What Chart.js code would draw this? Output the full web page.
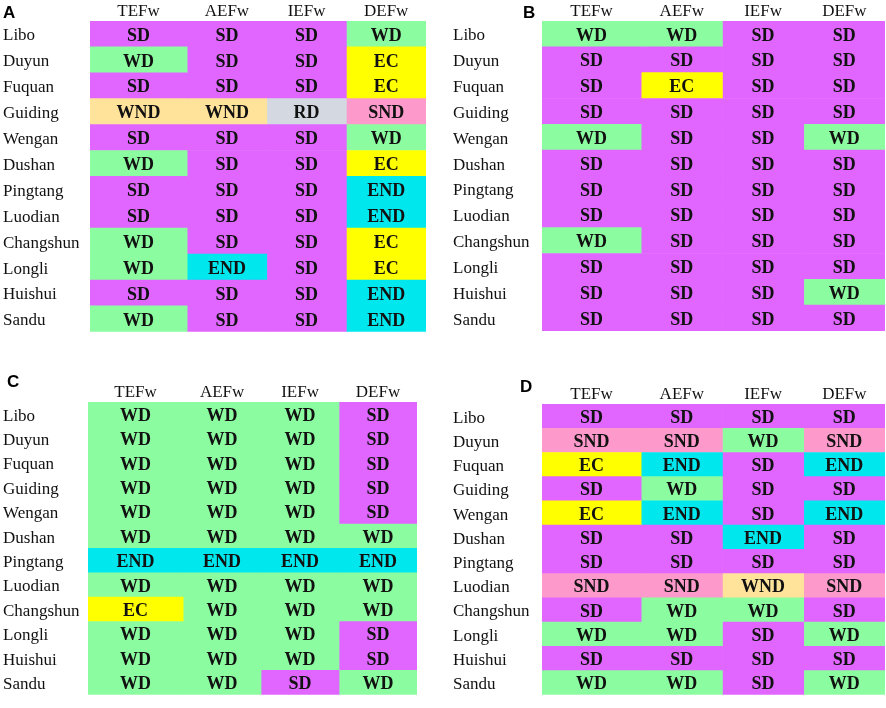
<!DOCTYPE html>
<html>
<head>
<meta charset="utf-8">
<script src="https://cdn.jsdelivr.net/npm/chart.js@4.4.1/dist/chart.umd.min.js"></script>
<style>
    html, body { margin: 0; padding: 0; background: #ffffff; }
    body { width: 886px; height: 708px; position: relative; overflow: hidden; }
    .panel { position: absolute; }
</style>
</head>
<body>
<div class="panel" id="panelA" style="left:0px;top:0px;width:440px;height:345px;"><canvas></canvas></div>
<div class="panel" id="panelB" style="left:440px;top:0px;width:446px;height:345px;"><canvas></canvas></div>
<div class="panel" id="panelC" style="left:0px;top:355px;width:440px;height:353px;"><canvas></canvas></div>
<div class="panel" id="panelD" style="left:440px;top:355px;width:446px;height:353px;"><canvas></canvas></div>
<script>
// stations (rows) and drought indices (columns)
const stations = ['Libo', 'Duyun', 'Fuquan', 'Guiding', 'Wengan', 'Dushan', 'Pingtang', 'Luodian', 'Changshun', 'Longli', 'Huishui', 'Sandu'];
const indices = ['TEFw', 'AEFw', 'IEFw', 'DEFw'];

// the first column is a bit wider than the others
const colWeights = [1.22, 1, 1, 1];

// panel A, one list per column
const panelA_TEFw = ['SD', 'WD', 'SD', 'WND', 'SD', 'WD', 'SD', 'SD', 'WD', 'WD', 'SD', 'WD'];
const panelA_AEFw = ['SD', 'SD', 'SD', 'WND', 'SD', 'SD', 'SD', 'SD', 'SD', 'END', 'SD', 'SD'];
const panelA_IEFw = ['SD', 'SD', 'SD', 'RD', 'SD', 'SD', 'SD', 'SD', 'SD', 'SD', 'SD', 'SD'];
const panelA_DEFw = ['WD', 'EC', 'EC', 'SND', 'WD', 'EC', 'END', 'END', 'EC', 'EC', 'END', 'END'];

// panel B
const panelB_TEFw = ['WD', 'SD', 'SD', 'SD', 'WD', 'SD', 'SD', 'SD', 'WD', 'SD', 'SD', 'SD'];
const panelB_AEFw = ['WD', 'SD', 'EC', 'SD', 'SD', 'SD', 'SD', 'SD', 'SD', 'SD', 'SD', 'SD'];
const panelB_IEFw = ['SD', 'SD', 'SD', 'SD', 'SD', 'SD', 'SD', 'SD', 'SD', 'SD', 'SD', 'SD'];
const panelB_DEFw = ['SD', 'SD', 'SD', 'SD', 'WD', 'SD', 'SD', 'SD', 'SD', 'SD', 'WD', 'SD'];

// panel C
const panelC_TEFw = ['WD', 'WD', 'WD', 'WD', 'WD', 'WD', 'END', 'WD', 'EC', 'WD', 'WD', 'WD'];
const panelC_AEFw = ['WD', 'WD', 'WD', 'WD', 'WD', 'WD', 'END', 'WD', 'WD', 'WD', 'WD', 'WD'];
const panelC_IEFw = ['WD', 'WD', 'WD', 'WD', 'WD', 'WD', 'END', 'WD', 'WD', 'WD', 'WD', 'SD'];
const panelC_DEFw = ['SD', 'SD', 'SD', 'SD', 'SD', 'WD', 'END', 'WD', 'WD', 'SD', 'SD', 'WD'];

// panel D
const panelD_TEFw = ['SD', 'SND', 'EC', 'SD', 'EC', 'SD', 'SD', 'SND', 'SD', 'WD', 'SD', 'WD'];
const panelD_AEFw = ['SD', 'SND', 'END', 'WD', 'END', 'SD', 'SD', 'SND', 'WD', 'WD', 'SD', 'WD'];
const panelD_IEFw = ['SD', 'WD', 'SD', 'SD', 'SD', 'END', 'SD', 'WND', 'WD', 'SD', 'SD', 'SD'];
const panelD_DEFw = ['SD', 'SND', 'END', 'SD', 'END', 'SD', 'SD', 'SND', 'SD', 'WD', 'SD', 'WD'];

const classColors = {
    SD: '#e066ff',
    WD: '#8cfca0',
    EC: '#ffff00',
    END: '#00e8ee',
    SND: '#fd9acb',
    WND: '#ffe39b',
    RD: '#d4d9e1'
};

const serif = "'Liberation Serif', 'Times New Roman', serif";
const ink = '#111111';

// layout of each panel inside its box
const panels = [
    { id: 'panelA', letter: 'A', columns: [panelA_TEFw, panelA_AEFw, panelA_IEFw, panelA_DEFw],
      padLeft: 3, axisWidth: 87, axisHeight: 21, padRight: 14, padBottom: 13, letterX: 3, letterY: 18 },
    { id: 'panelB', letter: 'B', columns: [panelB_TEFw, panelB_AEFw, panelB_IEFw, panelB_DEFw],
      padLeft: 13, axisWidth: 89, axisHeight: 21, padRight: 1, padBottom: 14, letterX: 83, letterY: 18 },
    { id: 'panelC', letter: 'C', columns: [panelC_TEFw, panelC_AEFw, panelC_IEFw, panelC_DEFw],
      padLeft: 3, axisWidth: 85, axisHeight: 47, padRight: 23, padBottom: 2, letterX: 7, letterY: 32 },
    { id: 'panelD', letter: 'D', columns: [panelD_TEFw, panelD_AEFw, panelD_IEFw, panelD_DEFw],
      padLeft: 13, axisWidth: 89, axisHeight: 49, padRight: 1, padBottom: 6, letterX: 80, letterY: 37 }
];

const edges = colWeights.reduce((acc, w) => {
    acc.push(acc[acc.length - 1] + w);
    return acc;
}, [0]);
const centers = colWeights.map((_, i) => (edges[i] + edges[i + 1]) / 2);

const cellLabels = {
    id: 'cellLabels',
    afterDatasetsDraw(chart) {
        const ctx = chart.ctx;
        ctx.save();
        ctx.font = `bold 18px ${serif}`;
        ctx.fillStyle = ink;
        ctx.textAlign = 'center';
        ctx.textBaseline = 'middle';
        chart.data.datasets.forEach((ds, di) => {
            const meta = chart.getDatasetMeta(di);
            meta.data.forEach((bar, i) => {
                const { x, base, y } = bar.getProps(['x', 'base', 'y'], true);
                ctx.fillText(ds.classes[i], (x + base) / 2, y + 2);
            });
        });
        ctx.restore();
    }
};

const panelLetter = {
    id: 'panelLetter',
    afterDraw(chart, args, opts) {
        const ctx = chart.ctx;
        ctx.save();
        ctx.font = "bold 17px 'Liberation Sans', Arial, sans-serif";
        ctx.fillStyle = '#000000';
        ctx.textAlign = 'left';
        ctx.textBaseline = 'alphabetic';
        ctx.fillText(opts.text, opts.x, opts.y);
        ctx.restore();
    }
};

panels.forEach((panel) => {
    const canvas = document.querySelector(`#${panel.id} canvas`);

    const datasets = panel.columns.map((classes, j) => ({
        label: indices[j],
        classes,
        data: stations.map(() => [edges[j], edges[j + 1]]),
        backgroundColor: classes.map((c) => classColors[c]),
        borderWidth: 0,
        borderSkipped: false,
        barPercentage: 1,
        categoryPercentage: 1,
        grouped: false
    }));

    new Chart(canvas, {
        type: 'bar',
        data: { labels: stations, datasets },
        options: {
            indexAxis: 'y',
            responsive: true,
            maintainAspectRatio: false,
            animation: false,
            layout: {
                padding: { left: panel.padLeft, right: panel.padRight, top: 0, bottom: panel.padBottom }
            },
            plugins: {
                legend: { display: false },
                tooltip: { enabled: false },
                panelLetter: { text: panel.letter, x: panel.letterX, y: panel.letterY }
            },
            scales: {
                x: {
                    type: 'linear',
                    position: 'top',
                    min: edges[0],
                    max: edges[edges.length - 1],
                    grid: { display: false, drawTicks: false },
                    border: { display: false },
                    afterBuildTicks: (scale) => {
                        scale.ticks = centers.map((value) => ({ value }));
                    },
                    afterFit: (scale) => {
                        scale.height = panel.axisHeight;
                    },
                    ticks: {
                        autoSkip: false,
                        maxRotation: 0,
                        padding: -1,
                        color: ink,
                        font: { family: serif, size: 17 },
                        callback: (value, index) => indices[index]
                    }
                },
                y: {
                    type: 'category',
                    grid: { display: false, drawTicks: false },
                    border: { display: false },
                    afterFit: (scale) => {
                        scale.width = panel.axisWidth;
                    },
                    ticks: {
                        crossAlign: 'far',
                        labelOffset: 2,
                        color: ink,
                        font: { family: serif, size: 17 }
                    }
                }
            }
        },
        plugins: [cellLabels, panelLetter]
    });
});
</script>
</body>
</html>
